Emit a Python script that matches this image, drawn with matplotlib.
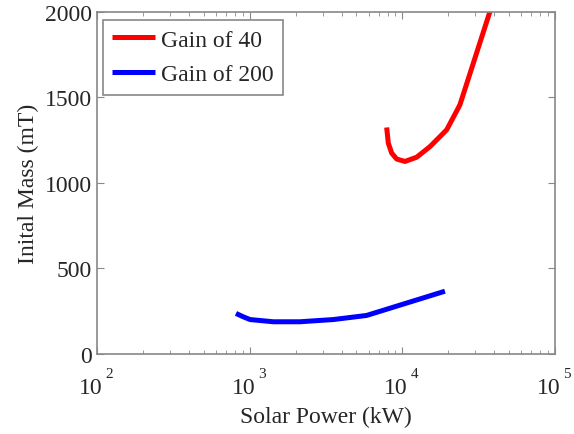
import matplotlib
matplotlib.use("Agg")
import matplotlib.pyplot as plt

plt.rcParams['font.family'] = ['Liberation Serif', 'DejaVu Serif']

# Gain of 40 (red)
power_g40 = [7890, 8090, 8510, 9180, 10400, 12420, 15170, 19500, 23800, 37500, 40000]
mass_g40 = [1324, 1232, 1174, 1139, 1125, 1150, 1212, 1310, 1456, 2004, 2110]

# Gain of 200 (blue)
power_g200 = [813, 908, 1005, 1430, 2130, 3530, 5830, 19000]
mass_g200 = [235, 215, 199, 186, 186, 199, 223, 365]

labels = ['Gain of 40', 'Gain of 200']
colors = ['#ff0000', '#0000ff']

x_exponents = [2, 3, 4, 5]
y_ticks = [0, 500, 1000, 1500, 2000]

fig = plt.figure(figsize=(5.74, 4.35), dpi=100)
ax = fig.add_axes([0.169, 0.185, 0.798, 0.785])

ax.plot(power_g40, mass_g40, color=colors[0], lw=3.6, label=labels[0], solid_capstyle='butt')
ax.plot(power_g200, mass_g200, color=colors[1], lw=3.6, label=labels[1], solid_capstyle='butt')

ax.set_xscale('log')
ax.set_xlim(10.0 ** x_exponents[0], 10.0 ** x_exponents[-1])
ax.set_ylim(0, 2000)
ax.set_yticks(y_ticks)
ax.set_xticks([10.0 ** e for e in x_exponents])
ax.set_xticklabels([])

text_color = '#262626'
for e in x_exponents:
    ax.annotate('10', xy=(10.0 ** e, 0), xycoords=('data', 'axes fraction'),
                xytext=(-4.5, -17), textcoords='offset points', ha='center', va='top',
                fontsize=17, color=text_color, annotation_clip=False)
    ax.annotate(str(e), xy=(10.0 ** e, 0), xycoords=('data', 'axes fraction'),
                xytext=(6.0, -19), textcoords='offset points', ha='left', va='bottom',
                fontsize=11, color=text_color, annotation_clip=False)

ax.set_xlabel('Solar Power (kW)', fontsize=17, color=text_color)
ax.xaxis.set_label_coords(0.5, -0.152)
ax.set_ylabel('Inital Mass (mT)', fontsize=17, color=text_color, labelpad=4)

for s in ax.spines.values():
    s.set_color('#888888')
    s.set_linewidth(1.2)
ax.tick_params(which='both', direction='in', top=True, right=True, colors='#888888',
               labelcolor=text_color, labelsize=17)
ax.tick_params(which='major', length=5)
ax.tick_params(which='minor', length=3)

leg = ax.legend(loc='upper left', bbox_to_anchor=(0.0, 0.995), fontsize=17, fancybox=False,
                edgecolor='#888888', framealpha=1, handlelength=1.8, handletextpad=0.25,
                borderaxespad=0.25, labelspacing=0.55, borderpad=0.4)
leg.get_frame().set_linewidth(1.2)
for t in leg.get_texts():
    t.set_color(text_color)

fig.savefig('out.png', dpi=100)
